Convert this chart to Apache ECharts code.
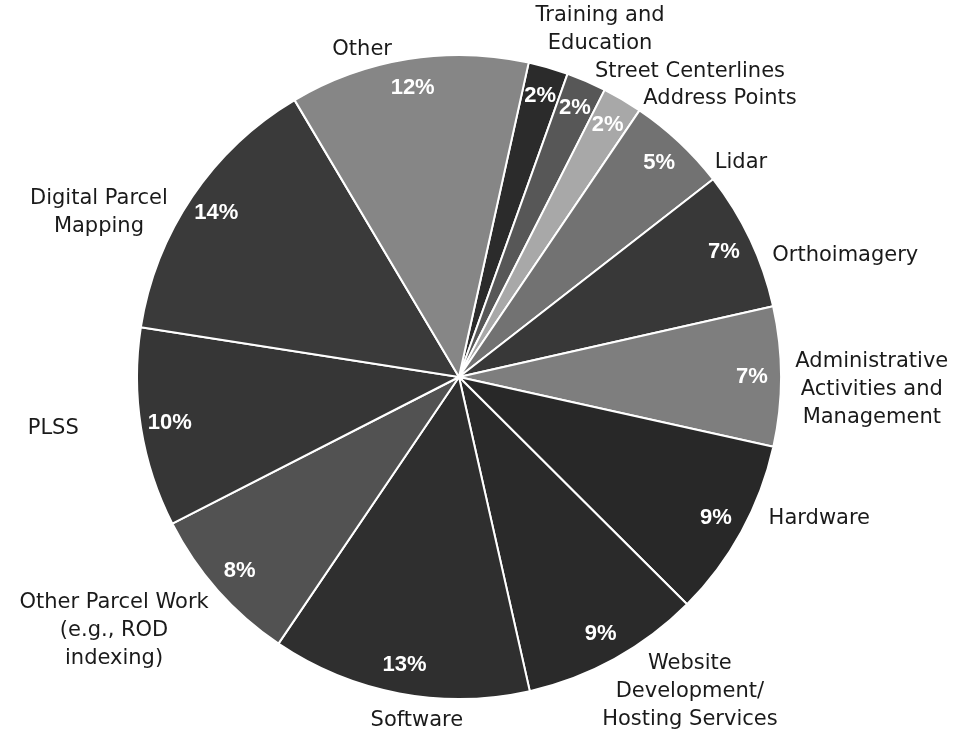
<!DOCTYPE html>
<html>
<head>
<meta charset="utf-8">
<script src="https://cdn.jsdelivr.net/npm/echarts@6/dist/echarts.min.js"></script>
<style>
  html, body { margin: 0; padding: 0; background: #ffffff; }
  #chart { width: 956px; height: 734px; }
</style>
</head>
<body>
<div id="chart"></div>
<script>
// Spending categories, clockwise from the top of the pie
const categories = [
  'Training and\nEducation',
  'Street Centerlines',
  'Address Points',
  'Lidar',
  'Orthoimagery',
  'Administrative\nActivities and\nManagement',
  'Hardware',
  'Website\nDevelopment/\nHosting Services',
  'Software',
  'Other Parcel Work\n(e.g., ROD\nindexing)',
  'PLSS',
  'Digital Parcel\nMapping',
  'Other'
];

// Share of total, in percent
const shares = [2, 2, 2, 5, 7, 7, 9, 9, 13, 8, 10, 14, 12];

// Grey fill for each slice
const sliceGreys = [
  '#2b2b2b', '#575757', '#a8a8a8', '#727272', '#383838', '#7e7e7e', '#282828',
  '#2a2a2a', '#2f2f2f', '#525252', '#363636', '#3a3a3a', '#868686'
];

// Outer name placement: [angle shift from slice middle (deg), distance from centre (px)]
const namePlacement = [
  [6.0, 375], [13.8, 383], [12.6, 382], [9.7, 354], [7.8, 405], [1.9, 413], [-7.3, 387],
  [-7.4, 390], [-3.7, 346], [5.2, 428], [1.9, 409], [-9.5, 396], [-7.4, 341]
];

const CX = 459, CY = 377, R = 322;
const START_ANGLE = 77.5; // echarts angle (deg, counter-clockwise from 3 o'clock)

const total = shares.reduce((a, b) => a + b, 0);
// middle of each slice, in degrees clockwise from 12 o'clock
const midAngles = [];
let acc = 0;
shares.forEach(v => {
  midAngles.push((90 - START_ANGLE) + (acc + v / 2) / total * 360);
  acc += v;
});

const data = categories.map((name, i) => ({
  name: name,
  value: shares[i],
  itemStyle: { color: sliceGreys[i] }
}));

const chart = echarts.init(document.getElementById('chart'), null, { renderer: 'canvas' });

chart.setOption({
  backgroundColor: '#ffffff',
  animation: false,
  series: [
    {
      type: 'pie',
      center: [CX, CY],
      radius: [0, R],
      startAngle: START_ANGLE,
      clockwise: true,
      avoidLabelOverlap: false,
      silent: true,
      itemStyle: { borderColor: '#ffffff', borderWidth: 2 },
      label: {
        show: true,
        position: 'outside',
        formatter: '{b}',
        fontFamily: 'DejaVu Sans',
        fontSize: 21,
        lineHeight: 28,
        color: '#1a1a1a'
      },
      labelLine: { show: false },
      labelLayout: function (params) {
        const i = params.dataIndex;
        const a = (midAngles[i] + namePlacement[i][0]) * Math.PI / 180;
        const d = namePlacement[i][1];
        return {
          x: CX + d * Math.sin(a),
          y: CY - d * Math.cos(a),
          align: 'center',
          verticalAlign: 'middle'
        };
      },
      data: data
    },
    {
      // transparent ring carrying the percentage labels
      type: 'pie',
      center: [CX, CY],
      radius: [258, R],
      startAngle: START_ANGLE,
      clockwise: true,
      silent: true,
      avoidLabelOverlap: false,
      itemStyle: { color: 'rgba(0,0,0,0)', borderWidth: 0 },
      label: {
        show: true,
        position: 'inside',
        formatter: '{c}%',
        fontFamily: 'Liberation Sans',
        fontWeight: 'bold',
        fontSize: 22,
        color: '#ffffff'
      },
      labelLine: { show: false },
      data: categories.map((name, i) => ({ name: name, value: shares[i] }))
    }
  ]
});
</script>
</body>
</html>
